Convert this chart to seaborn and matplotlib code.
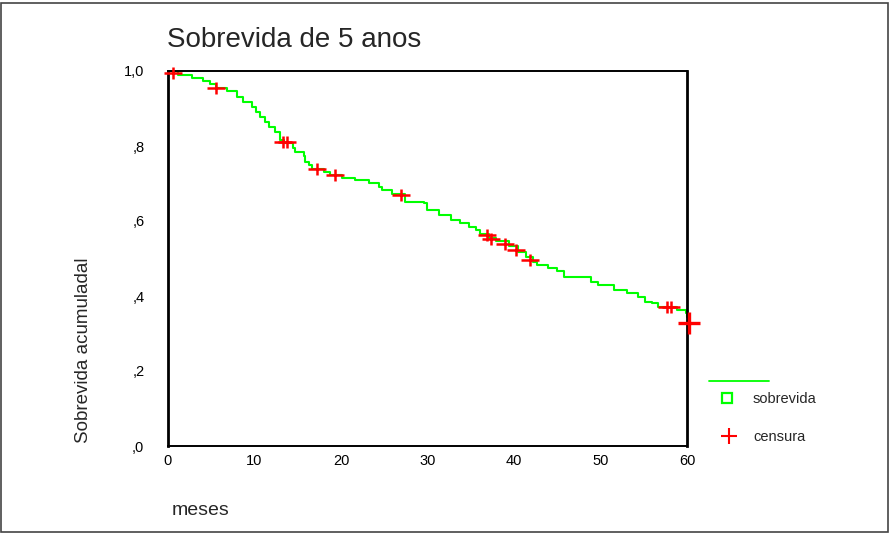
import numpy as np
import pandas as pd
import matplotlib
matplotlib.use("Agg")
import matplotlib.pyplot as plt
from matplotlib.path import Path
from matplotlib.lines import Line2D
from matplotlib.patches import Rectangle
import seaborn as sns

# ---- data ----
months = [0, 1.16, 2.78, 4.05, 4.87, 5.56, 6.8, 7.96, 8.72, 9.7, 10.2, 10.66, 11.24,
          11.62, 12.39, 12.97, 13.45, 14.5, 14.7, 15.7, 15.87, 16.25, 16.7, 18.0, 18.77,
          20.1, 21.66, 23.2, 24.36, 24.75, 25.9, 27.45, 29.57, 29.97, 31.3, 32.67, 33.8,
          34.8, 35.6, 36.1, 37.07, 37.9, 39.4, 40.5, 41.4, 42.2, 42.7, 43.9, 45.0, 45.8,
          48.9, 49.7, 51.6, 53.1, 54.3, 55.1, 56.0, 56.6, 58.9, 59.9, 60.0]
survival = [1.0, 0.989, 0.981, 0.974, 0.965, 0.955, 0.947, 0.931, 0.918, 0.905, 0.891,
            0.878, 0.865, 0.851, 0.838, 0.816, 0.808, 0.794, 0.784, 0.773, 0.758, 0.749,
            0.739, 0.731, 0.724, 0.714, 0.709, 0.702, 0.691, 0.683, 0.672, 0.651, 0.647,
            0.629, 0.616, 0.603, 0.594, 0.585, 0.576, 0.565, 0.555, 0.547, 0.533, 0.517,
            0.504, 0.491, 0.483, 0.474, 0.467, 0.451, 0.438, 0.429, 0.416, 0.409, 0.398,
            0.385, 0.381, 0.371, 0.363, 0.354, 0.345]

censor_months = [0.6, 5.6, 13.3, 13.7, 17.2, 19.35, 26.9, 36.9, 37.3, 39.0, 40.2, 41.9, 57.7, 58.1]
censor_surv = [0.995, 0.954, 0.812, 0.810, 0.738, 0.723, 0.669, 0.563, 0.552, 0.540, 0.523,
               0.496, 0.370, 0.370]
last_censor_month = [60.2]
last_censor_surv = [0.329]

x_ticks = [0, 10, 20, 30, 40, 50, 60]
y_ticks = [0.0, 0.2, 0.4, 0.6, 0.8, 1.0]
y_ticklabels = [",0", ",2", ",4", ",6", ",8", "1,0"]

title = "Sobrevida de 5 anos"
xlabel = "meses"
ylabel = "Sobrevida acumuladal"
legend_labels = ["sobrevida", "censura"]

# ---- style ----
sns.set_style("white")
plt.rcParams["font.family"] = ["Liberation Sans", "DejaVu Sans"]

W, H = 893, 533
fig = plt.figure(figsize=(W / 100, H / 100), dpi=100)
ax = fig.add_axes([168 / W, 1 - 446 / H, (687 - 168) / W, (446 - 71) / H])

green = "#00FF00"
red = "#FF0000"

curve = pd.DataFrame({"meses": months, "sobrevida": survival})
sns.lineplot(data=curve, x="meses", y="sobrevida", ax=ax, color=green, lw=1.5,
             drawstyle="steps-post", estimator=None, sort=False)

plus = Path([(-1, 0), (1, 0), (0, -0.7), (0, 0.7)],
            [Path.MOVETO, Path.LINETO, Path.MOVETO, Path.LINETO])
cens = pd.DataFrame({"meses": censor_months, "sobrevida": censor_surv})
sns.scatterplot(data=cens, x="meses", y="sobrevida", ax=ax, marker=plus, s=160,
                color=red, edgecolor=red, linewidth=1.8, zorder=5)
last = pd.DataFrame({"meses": last_censor_month, "sobrevida": last_censor_surv})
sns.scatterplot(data=last, x="meses", y="sobrevida", ax=ax, marker="+", s=260,
                color=red, edgecolor=red, linewidth=2.4, zorder=5)
for coll in ax.collections:
    coll.set_clip_on(False)

ax.set_xlim(0, 60)
ax.set_ylim(0, 1.0)
ax.set_xticks(x_ticks)
ax.set_xticklabels([str(v) for v in x_ticks])
ax.set_yticks(y_ticks)
ax.set_yticklabels(y_ticklabels)
ax.tick_params(axis="y", direction="out", length=5, width=1.2, pad=12, labelsize=10.5, colors="black")
ax.tick_params(axis="x", direction="out", length=4, width=1.2, pad=2, labelsize=10.5, colors="black")
ax.set_xlabel("")
ax.set_ylabel("")
for s in ax.spines.values():
    s.set_visible(True)
    s.set_color("black")
    s.set_linewidth(1.4)
ax.spines["left"].set_linewidth(2.0)
ax.spines["right"].set_linewidth(2.0)

# texts
fig.text(167 / W, 1 - 47 / H, title, fontsize=20, ha="left", va="baseline")
fig.text(172 / W, 1 - 515 / H, xlabel, fontsize=14, ha="left", va="baseline")
fig.text(84 / W, 1 - 350 / H, ylabel, fontsize=13.5, rotation=90, ha="center", va="center")

# legend (drawn manually like the original)
fig.add_artist(Line2D([709 / W, 769 / W], [1 - 381 / H, 1 - 381 / H], color=green, lw=1.3))
fig.add_artist(Line2D([727 / W], [1 - 398 / H], marker="s", ms=6.5, mfc="none",
                      mec=green, mew=1.6, ls="none"))
fig.add_artist(Line2D([729 / W], [1 - 436 / H], marker="+", ms=11, mec=red, mew=1.5, ls="none"))
fig.text(753 / W, 1 - 399 / H, legend_labels[0], fontsize=10.5, ha="left", va="center")
fig.text(753 / W, 1 - 437 / H, legend_labels[1], fontsize=10.5, ha="left", va="center")

# outer frame
fig.add_artist(Rectangle((1 / W, 1 / H), (888 - 1) / W, (531 - 2) / H, transform=fig.transFigure,
                         fill=False, edgecolor="#444444", lw=1.2))

fig.savefig("out.png", dpi=100)
